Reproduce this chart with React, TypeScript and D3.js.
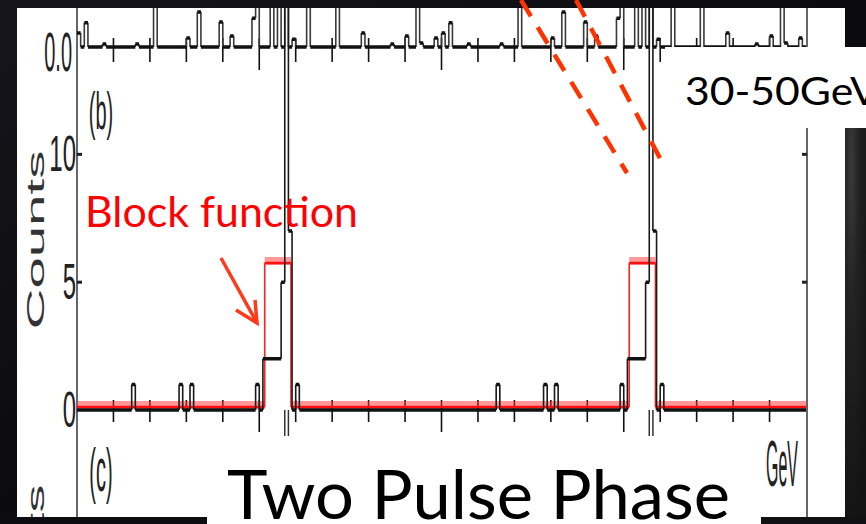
import React from "react";
import * as d3 from "d3";

// ---------- data ----------
// phase axis: two pulse cycles, ticks every 0.1
const phaseTicks = d3.range(1, 20).map((i) => i / 10);
const binsPerCycle = 100;

// panel (a): histogram (one cycle, bin index -> value, 1.5 = off scale)
const aBins = [0, 2, 7, 16, 21, 30, 33, 39, 42, 48, 49, 53, 55, 57, 59, 63, 71, 78, 86, 90, 93, 94, 98];
const aValues = [0.36, 0.62, 0.08, 0.08, 1.5, 0.23, 0.9, 0.64, 0.28, 0.74, 1.5, 1.5, 1.5, 1.5, 0.2, 1.5, 1.5, 0.36, 0.08, 0.28, 1.5, 0.1, 0.23];

// panel (b): counts histogram (one cycle)
const bBins = [15, 28, 31, 49, 51, 52, 53, 54, 55, 56, 57, 58, 60];
const bCounts = [1, 1, 1, 1, 2, 2, 2, 2, 2, 5, 30, 7, 1];

// block function (one cycle)
const blockEdges = [0, 0.515, 0.587, 1];
const blockLevels = [0.12, 5.75, 0.12];

const countTicks = [0, 5, 10];
const peakBins = [57];

// ---------- helpers ----------
function expand(bins: number[], vals: number[]) {
  const arr = new Array(binsPerCycle * 2).fill(0);
  for (let c = 0; c < 2; c++) bins.forEach((b, i) => (arr[b + c * binsPerCycle] = vals[i]));
  return arr;
}

function histPaths(arr: number[], x: (v: number) => number, y: (v: number) => number) {
  let h = "";
  let v = "";
  for (let i = 0; i < arr.length; i++) {
    const x0 = x(i / binsPerCycle);
    const x1 = x((i + 1) / binsPerCycle);
    const yy = y(arr[i]);
    h += `M${x0},${yy}H${x1}`;
    if (i > 0 && arr[i] !== arr[i - 1]) v += `M${x0},${y(arr[i - 1])}V${yy}`;
  }
  return { h, v };
}

function blockPaths(x: (v: number) => number, y: (v: number) => number) {
  const edges: number[] = [];
  const levels: number[] = [];
  for (let c = 0; c < 2; c++) {
    blockLevels.forEach((l, i) => {
      if (c === 1 && i === 0) return; // merges with previous cycle's last level
      levels.push(l);
    });
  }
  blockEdges.slice(0, -1).forEach((e) => edges.push(e));
  blockEdges.slice(1, -1).forEach((e) => edges.push(e + 1));
  edges.push(2);
  let h = "";
  let v = "";
  for (let i = 0; i < levels.length; i++) {
    h += `M${x(edges[i])},${y(levels[i])}H${x(edges[i + 1])}`;
    if (i > 0) v += `M${x(edges[i])},${y(levels[i - 1])}V${y(levels[i])}`;
  }
  return { h, v };
}

type STextProps = {
  x: number;
  y: number;
  text: string;
  size: number;
  sx?: number;
  sy?: number;
  rotate?: number;
  anchor?: "start" | "middle" | "end";
  fill?: string;
  family?: string;
};
function SText({ x, y, text, size, sx = 1, sy = 1, rotate = 0, anchor = "end", fill = "#222", family = "Liberation Sans, Arial, sans-serif" }: STextProps) {
  return (
    <text
      transform={`translate(${x},${y}) rotate(${rotate}) scale(${sx},${sy})`}
      fontSize={size}
      fontFamily={family}
      textAnchor={anchor}
      dominantBaseline="central"
      fill={fill}
    >
      {text}
    </text>
  );
}

export default function App() {
  const W = 866;
  const H = 524;
  const x = d3.scaleLinear().domain([0, 2]).range([77, 806]);
  const yA = d3.scaleLinear().domain([0, 1]).range([47, 8]);
  const yB = d3.scaleLinear().domain([0, 14.2]).range([410, 47]);

  const aArr = expand(aBins, aValues);
  const bArr = expand(bBins, bCounts);
  const aP = histPaths(aArr, x, yA);
  const bP = histPaths(bArr, x, yB);
  const blk = blockPaths(x, yB);

  const peakEdges: number[] = [];
  for (let c = 0; c < 2; c++)
    peakBins.forEach((b) => {
      peakEdges.push((b + c * binsPerCycle) / binsPerCycle, (b + 1 + c * binsPerCycle) / binsPerCycle);
    });

  return (
    <svg width={W} height={H} style={{ position: "absolute", left: 0, top: 0 }}>
      <defs>
        <linearGradient id="bgL" x1="0" y1="0" x2="1" y2="1">
          <stop offset="0" stopColor="#15151b" />
          <stop offset="0.5" stopColor="#0b0b0f" />
          <stop offset="1" stopColor="#121216" />
        </linearGradient>
        <radialGradient id="bgR" cx="0.3" cy="0.1" r="0.9">
          <stop offset="0" stopColor="#3a3a38" />
          <stop offset="0.4" stopColor="#222222" />
          <stop offset="1" stopColor="#141414" />
        </radialGradient>
        <clipPath id="plotClip">
          <rect x={17} y={8} width={828} height={509} />
        </clipPath>
      </defs>
      {/* background */}
      <rect x={0} y={0} width={W} height={H} fill="url(#bgL)" />
      <rect x={845} y={128} width={21} height={396} fill="url(#bgR)" />
      <rect x={17} y={8} width={828} height={509} fill="#ffffff" />

      <g clipPath="url(#plotClip)">
        {/* axes frame */}
        <line x1={77} y1={8} x2={77} y2={517} stroke="#333" strokeWidth={1.5} />
        <line x1={807} y1={8} x2={807} y2={517} stroke="#333" strokeWidth={1.5} />

        {/* x ticks on the panel borders */}
        {phaseTicks.map((t) => {
          const major = Math.round(t * 10) % 5 === 0;
          const xx = x(t);
          return (
            <g key={t} stroke="#111" strokeWidth={1.6}>
              <line x1={xx} x2={xx} y1={yA(0) - 9} y2={yA(0) + (major ? 23 : 15)} />
              <line x1={xx} x2={xx} y1={yB(0) - 10} y2={yB(0) + (major ? 22 : 12)} />
            </g>
          );
        })}

        {/* y ticks panel b */}
        {countTicks
          .filter((t) => t > 0)
          .map((t) => (
            <g key={t} stroke="#222" strokeWidth={3}>
              <line x1={77} x2={82} y1={yB(t)} y2={yB(t)} />
              <line x1={802} x2={807} y1={yB(t)} y2={yB(t)} />
            </g>
          ))}

        {/* panel a histogram */}
        <path d={aP.v} stroke="#3a3a3a" strokeWidth={1.6} fill="none" />
        <path d={aP.h} stroke="#111" strokeWidth={3.5} fill="none" />

        {/* block function */}
        <path d={blk.h} stroke="rgba(255,50,50,0.5)" strokeWidth={8} fill="none" transform="translate(0,-2)" />
        <path d={blk.h} stroke="#ff1010" strokeWidth={2.4} fill="none" />
        <path d={blk.v} stroke="#ff2020" strokeWidth={1.6} fill="none" />

        {/* panel b histogram */}
        <path d={bP.v} stroke="#1a1a1a" strokeWidth={1.6} fill="none" />
        <path d={bP.h} stroke="#111" strokeWidth={3.5} fill="none" />

        {/* peak lines continuing into panel c */}
        {peakEdges.map((p, i) => (
          <line key={i} x1={x(p)} x2={x(p)} y1={yB(0)} y2={yB(0) + 26} stroke="#333" strokeWidth={1.5} />
        ))}

        {/* figure labels */}
        <SText x={72} y={52} text="0.0" size={20} sy={2.8} />
        {countTicks.map((t) => (
          <SText key={t} x={76} y={yB(t) - 1} text={String(t)} size={24} sy={2.1} />
        ))}
        <SText x={101} y={111} text="(b)" size={20} sy={2.6} anchor="middle" />
        <SText x={101} y={469} text="(c)" size={20} sy={3.1} anchor="middle" />
        <SText x={782} y={463} text="GeV" size={16} sy={4.1} anchor="middle" />
        <SText x={36} y={240} text="Counts" size={24} sx={2.35} rotate={-90} anchor="middle" fill="#333" />
        <SText x={36} y={574} text="Counts" size={24} sx={2.35} rotate={-90} anchor="middle" fill="#333" />
      </g>

      {/* slide overlays */}
      <rect x={665} y={47} width={201} height={81} fill="#ffffff" />
      <text x={685} y={105} fontSize={39} fontFamily="Lato, 'Open Sans', sans-serif" textLength={194} lengthAdjust="spacingAndGlyphs" fill="#000">
        30-50GeV
      </text>
      <rect x={0} y={517} width={207} height={7} fill="#0d0d11" />
      <rect x={761} y={517} width={105} height={7} fill="#111114" />
      <rect x={207} y={470} width={554} height={54} fill="#ffffff" />
      <text x={227} y={519} fontSize={67} fontFamily="Lato, 'Open Sans', sans-serif" textLength={503} lengthAdjust="spacingAndGlyphs" fill="#000">
        Two Pulse Phase
      </text>

      <text x={85} y={227} fontSize={42} fontFamily="Lato, 'Open Sans', sans-serif" textLength={273} lengthAdjust="spacingAndGlyphs" fill="#ff0000">
        Block function
      </text>

      {/* arrow */}
      <g stroke="#ff3a1a" strokeWidth={3.5} fill="none" strokeLinecap="butt">
        <line x1={221} y1={258} x2={257} y2={323} />
        <polyline points="236,310 257,323 255,300" />
      </g>

      {/* dashed guide lines */}
      <g stroke="#ff3300" strokeWidth={4.5} strokeDasharray="19 13" fill="none">
        <line x1={521} y1={0} x2={627} y2={173} />
        <line x1={576} y1={0} x2={662} y2={162} />
      </g>
    </svg>
  );
}
